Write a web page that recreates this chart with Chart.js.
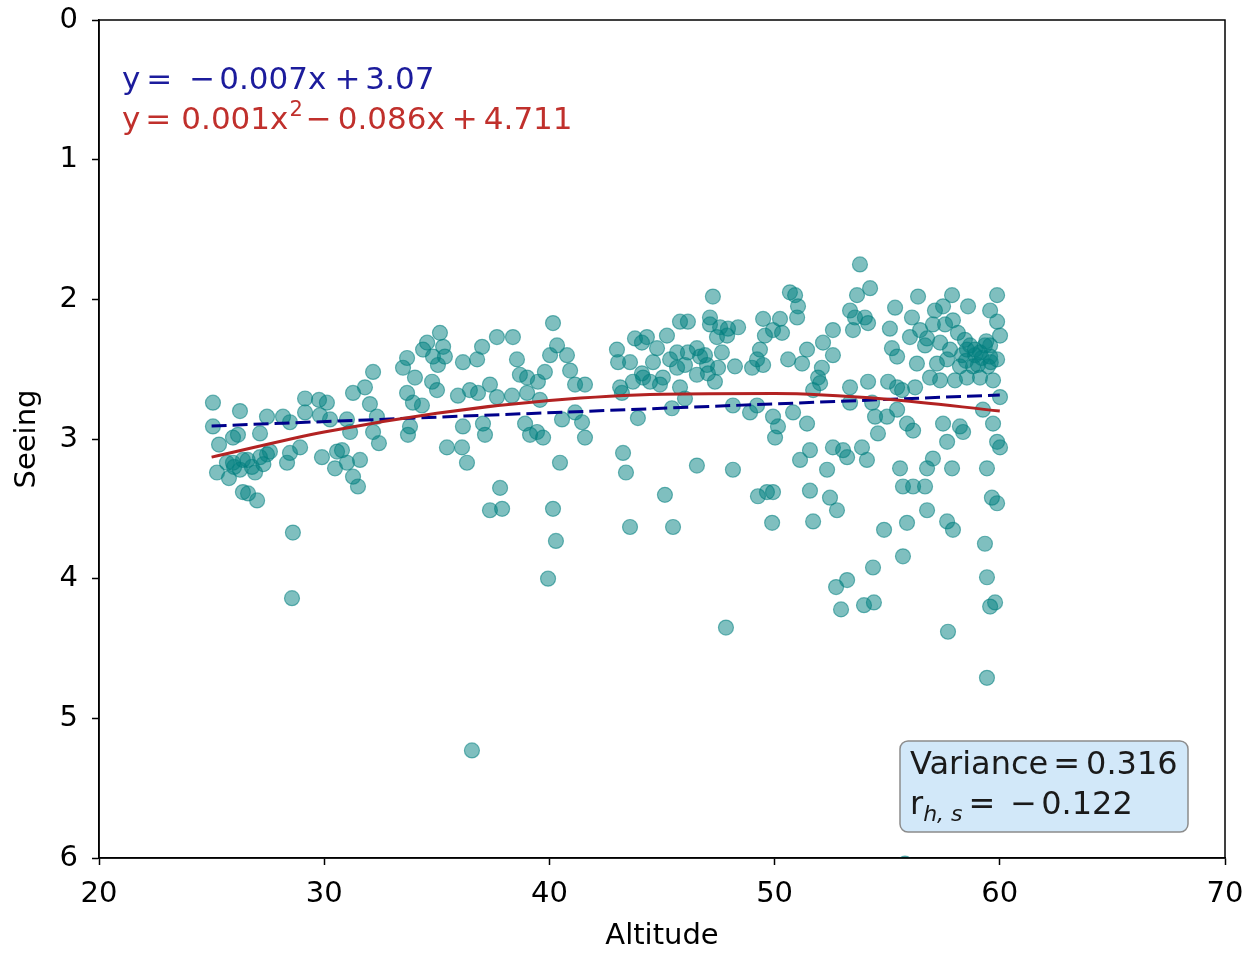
<!DOCTYPE html>
<html><head><meta charset="utf-8">
<script src="https://cdn.jsdelivr.net/npm/chart.js@4.4.0/dist/chart.umd.min.js"></script>
<style>html,body{margin:0;padding:0;background:#fff}#wrap{width:1244px;height:954px;position:relative}</style>
</head><body><div id="wrap"><canvas id="c" width="1244" height="954"></canvas></div>
<script>
// ---- data ----
const altitude = [
 25.06,26.26,25.06,25.33,25.95,26.17,27.15,27.46,28.17,28.48,29.15,29.15,29.77,30.12,29.81,30.26,28.93,28.48,28.35,25.24,
 25.77,25.68,26.39,26.79,27.46,27.59,27.15,26.93,26.39,26.62,27.02,29.90,30.57,30.48,28.61,28.57,25.95,26.26,
 26.00,26.60,27.30,
 30.79,31.01,31.59,31.28,31.50,31.28,31.81,32.17,32.03,32.34,31.01,31.15,32.17,32.43,
 40.16,35.14,34.57,34.39,34.83,35.28,35.36,33.68,33.50,34.03,35.05,34.79,35.01,33.68,33.94,34.34,36.16,36.79,37.01,37.67,
 38.38,38.56,38.69,39.01,39.49,39.80,40.34,40.03,40.78,40.92,41.14,41.58,35.94,36.47,36.83,37.36,37.67,38.34,39.01,39.58,
 33.81,33.72,36.16,37.05,37.14,38.92,39.14,39.72,39.45,40.56,41.14,41.45,41.58,35.45,36.12,36.34,40.47,37.81,37.36,37.90,
 40.16,43.00,43.05,40.29,39.94,36.56,
 47.26,50.68,50.91,51.04,49.49,50.24,51.00,45.80,46.15,47.13,47.13,47.58,47.93,48.38,47.89,47.44,45.22,44.33,43.80,44.11,
 44.78,43.58,44.60,45.36,45.67,46.15,46.55,46.69,46.91,47.66,45.67,46.02,47.00,47.49,48.24,49.00,49.22,49.35,49.49,49.57,
 49.93,50.33,50.60,44.11,43.71,44.47,44.16,43.14,43.22,45.04,45.80,46.55,47.04,47.35,44.91,45.44,46.02,43.93,48.15,48.91,
 49.22,49.93,50.15,50.02,50.82,43.27,43.40,46.55,48.15,45.13,49.26,49.66,49.93,49.89,43.58,45.49,47.84,
 53.79,54.24,53.66,53.35,53.57,54.01,54.15,53.48,52.59,52.15,51.44,52.59,51.22,52.10,51.93,52.02,51.71,53.35,54.15,55.04,
 55.44,55.35,55.12,55.21,55.44,51.44,53.35,54.33,54.46,54.99,55.44,54.59,51.57,51.13,52.59,53.04,53.22,53.88,54.10,52.33,
 51.57,52.46,52.77,51.71,52.73,52.95,53.22,53.97,54.41,54.37,54.86,
 56.37,57.88,59.88,57.48,58.59,59.57,56.10,57.03,57.92,59.88,56.01,56.77,58.14,60.01,57.35,58.54,59.12,59.57,56.32,57.21,
 57.66,58.23,58.81,59.48,59.88,56.90,57.35,58.01,58.54,59.12,59.70,56.24,55.66,60.01,59.25,
 58.68,58.90,59.34,58.45,59.03,59.57,58.32,57.79,56.68,56.46,57.57,57.12,
 59.20,59.60,58.90,59.40,58.50,
 55.88,56.15,57.48,57.66,58.23,58.37,59.70,59.88,60.01,55.57,56.77,57.03,57.88,59.43,55.70,56.15,56.68,56.77,59.65,59.88,
 55.88,57.66,57.92,55.70,55.79,57.70,59.34,59.43,59.57,59.79,59.43
];
const seeing = [
 2.74,2.80,2.91,3.04,2.99,2.97,2.96,2.84,2.84,2.88,2.71,2.81,2.72,2.74,2.83,2.86,3.06,3.10,3.17,3.24,
 3.28,3.17,3.15,3.20,3.11,3.09,3.13,3.24,3.38,3.39,3.44,3.13,3.09,3.21,3.67,4.14,3.17,3.22,
 3.20,3.15,3.18,
 3.08,3.17,3.15,3.27,3.34,2.67,2.63,2.52,2.75,2.84,2.86,2.95,2.95,3.03,
 2.17,2.24,2.31,2.36,2.41,2.34,2.41,2.42,2.49,2.56,2.47,2.59,2.65,2.67,2.74,2.76,2.45,2.43,2.34,2.27,
 2.27,2.43,2.54,2.56,2.59,2.52,2.33,2.40,2.40,2.51,2.61,2.61,2.69,2.65,2.67,2.61,2.70,2.69,2.67,2.72,
 2.91,2.97,2.91,2.89,2.97,2.89,2.97,2.99,2.95,2.86,2.81,2.88,2.99,3.06,3.06,3.17,3.17,3.35,3.51,3.50,
 3.50,2.36,2.45,3.73,4.00,5.23,
 1.98,1.95,1.97,2.05,2.14,2.14,2.13,2.16,2.16,2.13,2.18,2.20,2.21,2.20,2.26,2.27,2.26,2.27,2.28,2.31,
 2.35,2.45,2.45,2.43,2.38,2.38,2.35,2.41,2.40,2.38,2.49,2.47,2.47,2.49,2.48,2.49,2.43,2.36,2.47,2.26,
 2.22,2.24,2.43,2.53,2.59,2.59,2.56,2.63,2.67,2.56,2.63,2.54,2.53,2.59,2.61,2.78,2.71,2.85,2.76,2.81,
 2.76,2.84,2.91,2.99,2.81,3.10,3.24,3.19,3.22,3.40,3.41,3.38,3.38,3.60,3.63,3.63,4.35,
 1.75,1.92,1.97,2.08,2.13,2.13,2.17,2.22,2.22,2.31,2.36,2.40,2.46,2.49,2.56,2.60,2.65,2.63,2.59,2.59,
 2.63,2.06,2.21,2.35,2.41,2.89,2.74,2.74,2.84,2.84,2.79,2.96,3.08,3.15,3.06,3.08,3.13,3.06,3.15,3.22,
 3.37,3.42,3.51,3.59,4.06,4.22,4.01,4.19,4.17,3.92,3.65,
 1.98,1.97,1.97,2.05,2.05,2.08,2.13,2.18,2.15,2.16,2.27,2.28,2.24,2.26,2.31,2.36,2.38,2.41,2.46,2.46,
 2.43,2.48,2.48,2.48,2.43,2.56,2.58,2.58,2.56,2.56,2.58,2.63,2.65,2.70,2.79,
 2.33,2.40,2.33,2.29,2.47,2.33,2.40,2.36,2.33,2.22,2.18,2.08,
 2.42,2.45,2.36,2.30,2.44,
 2.89,2.94,2.89,3.02,2.91,2.95,2.89,3.02,3.06,3.21,3.21,3.14,3.21,3.21,3.34,3.34,3.34,3.51,3.42,3.46,
 3.60,3.59,3.65,3.84,6.04,4.38,3.75,3.99,4.20,4.17,4.71
];
// fitted curves
const quadX = [25,30,35,40,45,50,55,60];
const quadY = [3.13,2.95,2.815,2.725,2.68,2.675,2.715,2.80];
const linX = [25,60];
const linY = [2.907,2.685];
const xTickVals = [20,30,40,50,60,70];
const yTickVals = [0,1,2,3,4,5,6];
const xLabel = 'Altitude';
const yLabel = 'Seeing';

const FONT = 'DejaVu Sans';
const FS = 29;
const AFS = 31;
Chart.defaults.font.family = FONT;
Chart.defaults.font.size = FS;
Chart.defaults.color = '#000';

const scatterData = altitude.map((a,i)=>({x:a,y:seeing[i]}));
const quadData = quadX.map((a,i)=>({x:a,y:quadY[i]}));
const linData = linX.map((a,i)=>({x:a,y:linY[i]}));

function drawTokens(ctx, tokens, x, y, color, base){
  ctx.save();
  ctx.fillStyle = color;
  ctx.textBaseline = 'alphabetic';
  ctx.textAlign = 'left';
  let cx = x;
  for (const t of tokens){
    const size = t.size || base || AFS;
    ctx.font = (t.italic?'italic ':'') + size + 'px "' + FONT + '"';
    ctx.fillText(t.s, cx, y + (t.dy||0));
    cx += ctx.measureText(t.s).width + (t.gap||0);
  }
  ctx.restore();
}

const framePlugin = {
  id:'frame',
  afterDraw(chart){
    const {ctx, chartArea:a} = chart;
    ctx.save();
    ctx.strokeStyle = '#000';
    ctx.lineWidth = 1.5;
    ctx.strokeRect(a.left, a.top, a.right-a.left, a.bottom-a.top);
    ctx.restore();
    // equations
    drawTokens(ctx, [
      {s:'y',gap:6},{s:'=',gap:17},{s:'−',gap:4},{s:'0.007x',gap:8},{s:'+',gap:5},{s:'3.07'}
    ], a.left+23, a.top+69, '#1c1c9c');
    drawTokens(ctx, [
      {s:'y',gap:5},{s:'=',gap:10},{s:'0.001x',gap:1},{s:'2',size:21,dy:-13,gap:3},{s:'−',gap:6},{s:'0.086x',gap:7},{s:'+',gap:6},{s:'4.711'}
    ], a.left+23, a.top+109, '#c0302c');
    // stats box
    const bx = 900, by = 741, bw = 288, bh = 91;
    ctx.save();
    ctx.beginPath();
    ctx.roundRect(bx, by, bw, bh, 8);
    ctx.fillStyle = '#d2e8f9';
    ctx.fill();
    ctx.strokeStyle = '#8c8c8c';
    ctx.lineWidth = 1.5;
    ctx.stroke();
    ctx.restore();
    drawTokens(ctx, [{s:'Variance',gap:5},{s:'=',gap:6},{s:'0.316'}], bx+10, by+33, '#1a1a1a', 32);
    drawTokens(ctx, [{s:'r',gap:0},{s:'h, s',size:22,italic:true,dy:7,gap:6},{s:'=',gap:15},{s:'−',gap:4},{s:'0.122'}], bx+10, by+73, '#1a1a1a', 32);
  }
};

new Chart(document.getElementById('c'), {
  type:'scatter',
  data:{datasets:[
    {type:'line', data:quadData, borderColor:'#b22222', borderWidth:3, pointRadius:0, tension:0.4, cubicInterpolationMode:'monotone', fill:false, order:1},
    {type:'line', data:linData, borderColor:'#00008b', borderWidth:3, borderDash:[15,6], pointRadius:0, fill:false, order:2},
    {data:scatterData, backgroundColor:'rgba(0,128,128,0.5)', borderColor:'rgba(0,128,128,0.55)', borderWidth:1.2, pointRadius:7.5, order:3, clip:0}
  ]},
  options:{
    responsive:false, animation:false, devicePixelRatio:1,
    layout:{padding:{top:20,right:19,left:0,bottom:0}},
    plugins:{legend:{display:false}, tooltip:{enabled:false}},
    scales:{
      x:{type:'linear', min:20, max:70,
        afterBuildTicks(s){ s.ticks = xTickVals.map(v=>({value:v})); },
        afterFit(s){ s.height = 96; s.paddingLeft = 0; s.paddingRight = 0; },
        grid:{display:true, drawOnChartArea:false, drawTicks:true, tickLength:7, tickWidth:1.5, tickColor:'#000'},
        border:{display:true, color:'#000', width:1.5},
        ticks:{padding:12, color:'#000', font:{size:FS}, maxRotation:0},
        title:{display:true, text:xLabel, color:'#000', font:{size:FS}, padding:{top:0,bottom:0}}
      },
      y:{type:'linear', min:0, max:6, reverse:true,
        afterBuildTicks(s){ s.ticks = yTickVals.map(v=>({value:v})); },
        afterFit(s){ s.width = 99; s.paddingTop = 0; s.paddingBottom = 0; },
        grid:{display:true, drawOnChartArea:false, drawTicks:true, tickLength:7, tickWidth:1.5, tickColor:'#000'},
        border:{display:true, color:'#000', width:1.5},
        ticks:{padding:14, color:'#000', font:{size:FS}},
        title:{display:true, text:yLabel, color:'#000', font:{size:FS}, padding:{top:10,bottom:0}}
      }
    }
  },
  plugins:[framePlugin]
});
</script></body></html>
